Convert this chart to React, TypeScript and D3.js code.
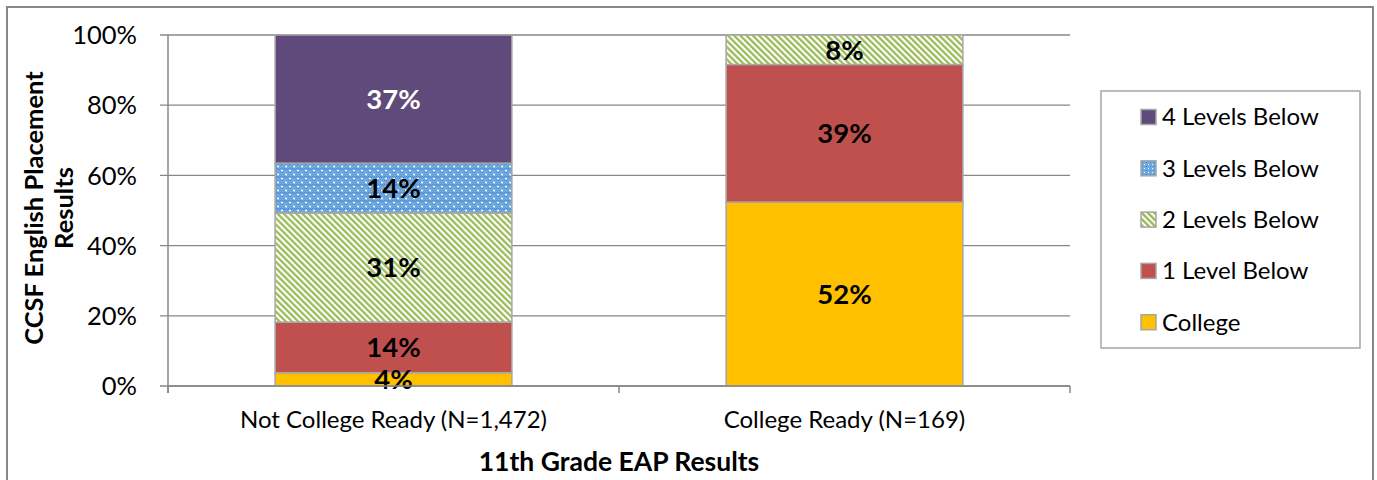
import React from "react";
import * as d3 from "d3";

const categories = ["Not College Ready (N=1,472)", "College Ready (N=169)"];
const seriesNames = ["College", "1 Level Below", "2 Levels Below", "3 Levels Below", "4 Levels Below"];
const college = [3.8, 52.4];
const oneBelow = [14.4, 39.2];
const twoBelow = [31.1, 8.4];
const threeBelow = [14.2, 0];
const fourBelow = [36.5, 0];
const yTicks = [0, 20, 40, 60, 80, 100];

const FONT = "Lato, 'Open Sans', sans-serif";

export default function App() {
  const W = 1377, H = 480;
  const left = 168, right = 1070, top = 35, bottom = 386;
  const x = d3.scaleBand<string>().domain(categories).range([left, right]).paddingInner(0.475).paddingOuter(0.2375);
  const y = d3.scaleLinear().domain([0, 100]).range([bottom, top]);
  const fills = ["#FFC000", "#C0504D", "url(#pGreen)", "url(#pBlue)", "#604A7B"];
  const legendFills = ["#FFC000", "#C0504D", "url(#pGreenL)", "url(#pBlueL)", "#604A7B"];
  const values = [college, oneBelow, twoBelow, threeBelow, fourBelow];
  const rows = categories.map((c, i) => {
    const o: any = { cat: c };
    seriesNames.forEach((s, j) => (o[s] = values[j][i]));
    return o;
  });
  const stacked = d3.stack<any>().keys(seriesNames)(rows);
  const bw = x.bandwidth();
  const step = x.step();

  return (
    <svg width={W} height={H} style={{ position: "absolute", left: 0, top: 0, background: "#fff" }}>
      <defs>
        <pattern id="pGreen" width="4.4" height="4.4" patternUnits="userSpaceOnUse" patternTransform="rotate(-45)">
          <rect width="4.4" height="4.4" fill="#fff" />
          <rect width="2.3" height="4.4" fill="#9BBB59" />
        </pattern>
        <pattern id="pGreenL" width="4.4" height="4.4" patternUnits="userSpaceOnUse" patternTransform="rotate(-45)">
          <rect width="4.4" height="4.4" fill="#fff" />
          <rect width="2.4" height="4.4" fill="#9BBB59" />
        </pattern>
        <pattern id="pBlue" width="8" height="8" patternUnits="userSpaceOnUse">
          <rect width="8" height="8" fill="#6FA8DE" />
          <rect x="0" y="0" width="1" height="1" fill="#4A8ACF" />
          <rect x="2" y="0" width="1" height="1" fill="#4A8ACF" />
          <rect x="4" y="0" width="1" height="1" fill="#4A8ACF" />
          <rect x="6" y="0" width="1" height="1" fill="#4A8ACF" />
          <rect x="1" y="1" width="1" height="1" fill="#4A8ACF" />
          <rect x="3" y="1" width="1" height="1" fill="#4A8ACF" />
          <rect x="5" y="1" width="1" height="1" fill="#4A8ACF" />
          <rect x="7" y="1" width="1" height="1" fill="#4A8ACF" />
          <rect x="0" y="4" width="1" height="1" fill="#4A8ACF" />
          <rect x="2" y="4" width="1" height="1" fill="#4A8ACF" />
          <rect x="4" y="6" width="1" height="1" fill="#4A8ACF" />
          <rect x="6" y="6" width="1" height="1" fill="#4A8ACF" />
          <rect x="1" y="2" width="2" height="1" fill="#fff" />
          <rect x="1.5" y="1.5" width="1" height="2" fill="#fff" />
          <rect x="5" y="6" width="2" height="1" fill="#fff" />
          <rect x="5.5" y="5.5" width="1" height="2" fill="#fff" />
        </pattern>
        <pattern id="pBlueL" width="4" height="4" patternUnits="userSpaceOnUse">
          <rect width="4" height="4" fill="#6FA8DE" />
          <rect x="0" y="0" width="1" height="1" fill="#fff" />
          <rect x="2" y="2" width="1" height="1" fill="#4A8ACF" />
        </pattern>
      </defs>
      <rect x={7} y={7} width={1366} height={490} fill="#fff" stroke="#878787" strokeWidth={2} />

      {yTicks.map((t) => (
        <g key={t}>
          <line x1={left - 8} x2={right} y1={y(t)} y2={y(t)} stroke="#878787" strokeWidth={1.3} />
          <text x={137} y={y(t)} dy="0.36em" textAnchor="end" fontFamily={FONT} fontSize={25.5} fill="#000">
            {t}%
          </text>
        </g>
      ))}
      <line x1={left} x2={left} y1={top} y2={bottom + 7} stroke="#878787" strokeWidth={1.5} />
      {[0, 1, 2].map((i) => (
        <line key={i} x1={left + i * step} x2={left + i * step} y1={bottom} y2={bottom + 7} stroke="#878787" strokeWidth={1.5} />
      ))}

      {stacked.map((layer, j) =>
        layer.map((d, i) => {
          const v = d[1] - d[0];
          if (v <= 0) return null;
          const bx = x(categories[i])!;
          return (
            <rect key={`${j}-${i}`} x={bx} y={y(d[1])} width={bw} height={y(d[0]) - y(d[1])} fill={fills[j]} stroke="#A6A6A6" strokeWidth={1.5} />
          );
        })
      )}
      {stacked.map((layer, j) =>
        layer.map((d, i) => {
          const v = d[1] - d[0];
          if (v <= 0) return null;
          const bx = x(categories[i])!;
          return (
            <text key={`t${j}-${i}`} x={bx + bw / 2} y={(y(d[0]) + y(d[1])) / 2} dy="0.36em" textAnchor="middle" fontFamily={FONT} fontWeight="bold" fontSize={27.5} fill={j === 4 ? "#fff" : "#000"}>
              {Math.round(v)}%
            </text>
          );
        })
      )}
      <line x1={left} x2={right} y1={bottom} y2={bottom} stroke="#878787" strokeWidth={1.5} />

      {categories.map((c) => (
        <text key={c} x={x(c)! + bw / 2} y={420} dy="0.35em" textAnchor="middle" fontFamily={FONT} fontSize={24} fill="#000">
          {c}
        </text>
      ))}
      <text x={(left + right) / 2} y={462} dy="0.35em" textAnchor="middle" fontFamily={FONT} fontWeight="bold" fontSize={26.5} fill="#000">
        11th Grade EAP Results
      </text>
      <g transform="translate(34,208) rotate(-90)">
        <text x={0} y={0} dy="0.35em" textAnchor="middle" fontFamily={FONT} fontWeight="bold" fontSize={25.5} fill="#000">
          CCSF English Placement
        </text>
        <text x={0} y={30} dy="0.35em" textAnchor="middle" fontFamily={FONT} fontWeight="bold" fontSize={25.5} fill="#000">
          Results
        </text>
      </g>

      <rect x={1101} y={91} width={259} height={257} fill="#fff" stroke="#A6A6A6" strokeWidth={1.5} />
      {seriesNames.slice().reverse().map((s, k) => {
        const j = seriesNames.length - 1 - k;
        const cy = 117 + k * 51.3;
        return (
          <g key={s}>
            <rect x={1141} y={cy - 7.5} width={15} height={15} fill={legendFills[j]} stroke="#A6A6A6" strokeWidth={1.5} />
            <text x={1162} y={cy} dy="0.35em" fontFamily={FONT} fontSize={24} fill="#000">
              {s}
            </text>
          </g>
        );
      })}
    </svg>
  );
}
